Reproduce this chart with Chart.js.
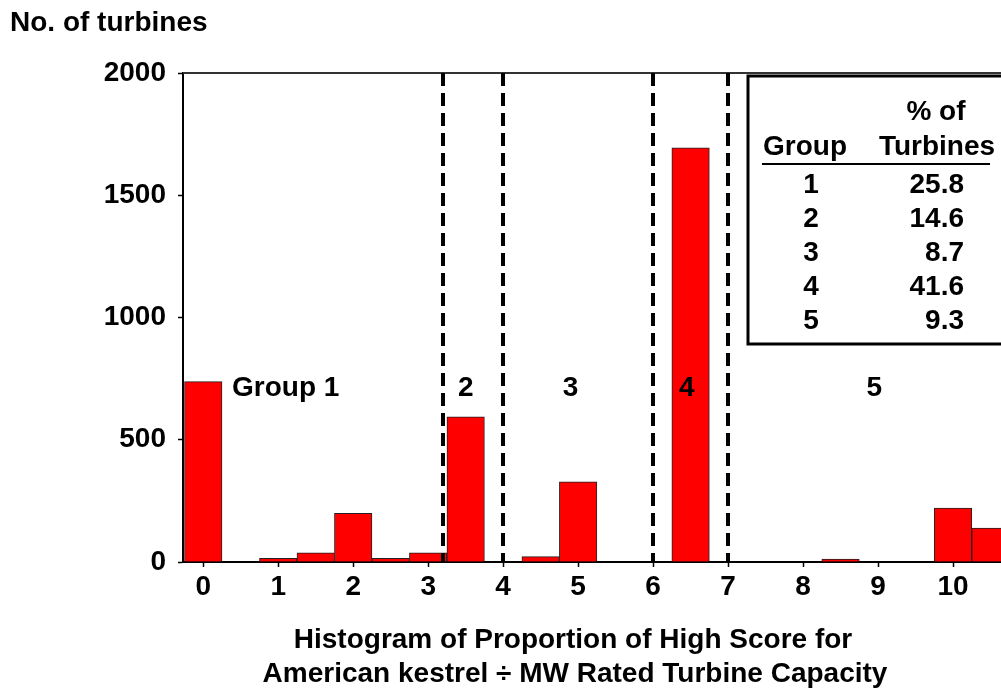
<!DOCTYPE html>
<html>
<head>
<meta charset="utf-8">
<script src="https://cdn.jsdelivr.net/npm/chart.js@4.4.1/dist/chart.umd.min.js"></script>
<style>
  html, body { margin: 0; padding: 0; background: #fff; }
  #wrap { width: 1001px; height: 689px; position: relative; }
</style>
</head>
<body>
<div id="wrap"><canvas id="c" width="1001" height="689"></canvas></div>
<script>
// ---- data ----
const binCenters = [0, 1, 1.5, 2, 2.5, 3, 3.5, 4.5, 5, 6.5, 8.5, 10, 10.5];
const turbineCounts = [738, 15, 38, 199, 15, 38, 594, 22, 328, 1694, 12, 221, 139];
const xTickValues = [0, 1, 2, 3, 4, 5, 6, 7, 8, 9, 10];
const yTickValues = [0, 500, 1000, 1500, 2000];
const groupBoundaries = [3.2, 4, 6, 7];
const groupLabels = ['Group 1', '2', '3', '4', '5'];
const groupLabelX = [1.1, 3.5, 4.9, 6.45, 8.95];
const tableGroups = ['1', '2', '3', '4', '5'];
const tablePercents = ['25.8', '14.6', '8.7', '41.6', '9.3'];
const yTitle = 'No. of turbines';
const xTitleLines = ['Histogram of Proportion of High Score for', 'American kestrel \u00F7 MW Rated Turbine Capacity'];

const FONT = "'Liberation Sans', Arial, sans-serif";
const FS = 28;

const overlay = {
  id: 'overlay',
  afterDatasetsDraw(chart) {
    const ctx = chart.ctx;
    const xs = chart.scales.x, ys = chart.scales.y;
    const ca = chart.chartArea;
    ctx.save();
    // top border
    ctx.strokeStyle = '#333';
    ctx.lineWidth = 2;
    ctx.beginPath();
    ctx.moveTo(ca.left, ca.top);
    ctx.lineTo(ca.right, ca.top);
    ctx.stroke();
    // dashed boundaries
    ctx.strokeStyle = '#000';
    ctx.lineWidth = 4;
    ctx.setLineDash([13, 7]);
    groupBoundaries.forEach(v => {
      const px = Math.round(xs.getPixelForValue(v));
      ctx.beginPath();
      ctx.moveTo(px, ca.top);
      ctx.lineTo(px, ys.getPixelForValue(0));
      ctx.stroke();
    });
    ctx.setLineDash([]);
    // group labels
    ctx.fillStyle = '#000';
    ctx.font = `bold ${FS}px ${FONT}`;
    ctx.textAlign = 'center';
    ctx.textBaseline = 'middle';
    groupLabels.forEach((t, i) => {
      ctx.fillText(t, xs.getPixelForValue(groupLabelX[i]), ys.getPixelForValue(710));
    });
    // table box
    ctx.fillStyle = '#fff';
    ctx.fillRect(748, 76, 270, 268);
    ctx.strokeStyle = '#000';
    ctx.lineWidth = 3;
    ctx.strokeRect(748, 76, 270, 268);
    ctx.fillStyle = '#000';
    ctx.textAlign = 'center';
    ctx.fillText('% of', 936, 112);
    ctx.fillText('Group', 805, 147);
    ctx.fillText('Turbines', 937, 147);
    ctx.lineWidth = 2;
    ctx.beginPath();
    ctx.moveTo(762, 164);
    ctx.lineTo(990, 164);
    ctx.stroke();
    tableGroups.forEach((g, i) => {
      const y = 185 + i * 34;
      ctx.textAlign = 'center';
      ctx.fillText(g, 811, y);
      ctx.textAlign = 'right';
      ctx.fillText(tablePercents[i], 964, y);
    });
    // titles
    ctx.textAlign = 'left';
    ctx.fillText(yTitle, 10, 23);
    ctx.textAlign = 'center';
    ctx.fillText(xTitleLines[0], 573, 640);
    ctx.fillText(xTitleLines[1], 575, 674);
    ctx.restore();
  }
};

new Chart(document.getElementById('c'), {
  type: 'bar',
  data: {
    datasets: [{
      data: binCenters.map((x, i) => ({ x: x, y: turbineCounts[i] })),
      backgroundColor: '#ff0000',
      borderColor: '#222',
      borderWidth: 1,
      barPercentage: 1.0,
      categoryPercentage: 1.0
    }]
  },
  options: {
    responsive: false,
    animation: false,
    devicePixelRatio: 1,
    layout: { padding: { left: 0, top: 73, right: 0, bottom: 0 } },
    plugins: { legend: { display: false }, tooltip: { enabled: false }, title: { display: false } },
    scales: {
      x: {
        type: 'linear',
        offset: false,
        min: -0.27,
        max: 10.64,
        afterFit: s => { s.height = 127; },
        afterBuildTicks: s => { s.ticks = xTickValues.map(v => ({ value: v })); },
        ticks: {
          color: '#000',
          font: { family: FONT, size: FS, weight: 'bold' },
          padding: 3,
          maxRotation: 0,
          autoSkip: false,
          callback: v => String(v)
        },
        grid: { display: true, offset: false, drawOnChartArea: false, drawTicks: true, tickLength: 5, color: '#000', tickWidth: 1.5 },
        border: { display: true, color: '#000', width: 2 }
      },
      y: {
        min: 0,
        max: 2000,
        afterFit: s => { s.width = 183; },
        afterBuildTicks: s => { s.ticks = yTickValues.map(v => ({ value: v })); },
        ticks: {
          color: '#000',
          font: { family: FONT, size: FS, weight: 'bold' },
          padding: 12,
          callback: v => String(v)
        },
        grid: { display: true, drawOnChartArea: false, drawTicks: true, tickLength: 5, color: '#000', tickWidth: 1.5 },
        border: { display: true, color: '#000', width: 2 }
      }
    }
  },
  plugins: [overlay]
});
</script>
</body>
</html>
